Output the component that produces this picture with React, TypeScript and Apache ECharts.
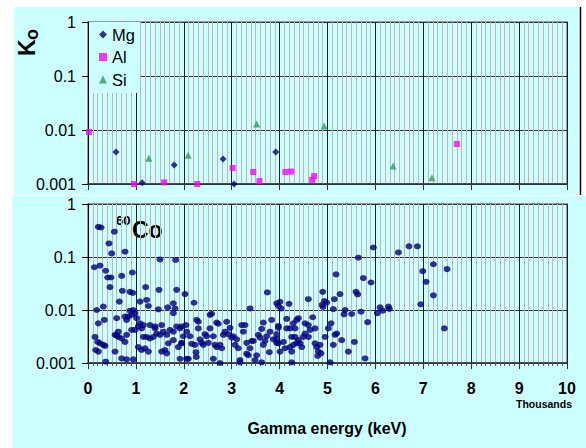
import React, { useEffect, useRef } from "react";
import * as echarts from "echarts";

// Top panel: K0 values for Mg, Al, Si (energy keV, K0)
const mgData: number[][] = [
  [585, 0.0039], [1130, 0.00105], [1800, 0.00225], [2820, 0.0029], [3050, 0.001], [3920, 0.0039],
];
const alData: number[][] = [
  [20, 0.0092], [960, 0.001], [1590, 0.00107], [2280, 0.001], [3020, 0.00198], [3450, 0.00167],
  [3580, 0.00113], [4120, 0.00167], [4240, 0.0017], [4680, 0.00119], [4720, 0.0014], [7700, 0.0055],
];
const siData: number[][] = [
  [1270, 0.003], [2090, 0.0034], [3520, 0.0129], [4930, 0.0118], [6370, 0.00215], [7180, 0.0013],
];

// Bottom panel: 60Co
const coData: number[][] = [
  [216, 0.37], [272, 0.36], [550, 0.30], [438, 0.18], [494, 0.117], [772, 0.126],
  [132, 0.064], [251, 0.069], [369, 0.055], [411, 0.041], [480, 0.041], [703, 0.044], [926, 0.051],
  [459, 0.027], [717, 0.023], [877, 0.022], [933, 0.021], [1204, 0.027], [1482, 0.024], [1851, 0.024],
  [1503, 0.09], [1830, 0.088],
  [654, 0.0144], [320, 0.0116], [181, 0.01], [1086, 0.0144], [1225, 0.0155], [1260, 0.0119],
  [877, 0.0097], [947, 0.01], [981, 0.0087], [912, 0.0081], [842, 0.0075], [1016, 0.007],
  [772, 0.0075], [807, 0.0065],
  [1468, 0.0103], [1664, 0.0112], [1782, 0.0134], [1817, 0.0107], [1782, 0.0087],
  [216, 0.0056], [341, 0.0065], [599, 0.007],
  [1086, 0.0056], [1051, 0.0049], [1120, 0.0045], [981, 0.0042], [912, 0.0042],
  [146, 0.0031], [202, 0.0025], [251, 0.00235], [320, 0.0022], [355, 0.0021],
  [564, 0.0034], [599, 0.0033], [633, 0.0031], [703, 0.0029], [772, 0.0025], [807, 0.0034], [633, 0.0039],
  [160, 0.00176], [216, 0.00164],
  [564, 0.00164], [703, 0.00122], [807, 0.00117], [947, 0.00117], [369, 0.00106],
  [1051, 0.002], [1120, 0.00176], [1190, 0.0019], [1260, 0.00164], [1155, 0.0031], [1225, 0.0031],
  [1294, 0.0029], [1364, 0.0031], [1399, 0.0045], [1434, 0.0036], [1503, 0.0034], [1573, 0.0039],
  [1643, 0.0034], [1712, 0.0042], [1782, 0.0039], [1851, 0.0049], [1921, 0.0045], [1608, 0.00176],
  [1538, 0.00164], [1643, 0.00152], [1677, 0.00235], [1782, 0.0027], [1886, 0.002], [1956, 0.00235],
  [1155, 0.0052], [1294, 0.0052], [1399, 0.0049], [1538, 0.0052],
  [1921, 0.0012],
  [2025, 0.02], [2213, 0.0137], [2547, 0.0081], [2581, 0.0085], [3744, 0.0215], [3383, 0.0107],
  [3940, 0.0134], [3973, 0.012],
  [1956, 0.0049], [2046, 0.0052], [2060, 0.0039], [1990, 0.0032], [1956, 0.0024], [2130, 0.0032],
  [2165, 0.0023], [2234, 0.0022], [2268, 0.0065], [2303, 0.006], [2303, 0.0045], [2255, 0.0016],
  [2260, 0.0013], [2338, 0.0028], [2373, 0.0024], [2408, 0.0022], [2442, 0.0035], [2477, 0.0032],
  [2512, 0.0024], [2547, 0.0045], [2617, 0.0032], [2651, 0.0022], [2686, 0.0058], [2721, 0.0055],
  [2686, 0.002], [2756, 0.0022], [2791, 0.0019], [2826, 0.0034], [2860, 0.0039], [2895, 0.006],
  [2930, 0.0035], [2965, 0.0046], [2999, 0.003], [3034, 0.0032], [3069, 0.0022], [3104, 0.0028],
  [3138, 0.0019], [3173, 0.00114], [3208, 0.0052], [3278, 0.0052], [3243, 0.0039], [3313, 0.0024],
  [3313, 0.0015], [3347, 0.0014], [3383, 0.0019], [3417, 0.0026], [3452, 0.0026], [3487, 0.00114],
  [3521, 0.0014], [3556, 0.0034], [3591, 0.003], [3626, 0.0044], [3660, 0.0058], [3660, 0.0022],
  [3695, 0.0026], [3730, 0.0032], [3786, 0.0016], [3800, 0.0039], [3835, 0.0065], [3870, 0.0028],
  [3939, 0.0035], [3939, 0.0024], [3974, 0.0046], [2060, 0.0012], [2095, 0.0012], [2756, 0.001],
  [3173, 0.00103], [3626, 0.00103], [2617, 0.0012],
  [5957, 0.151], [5644, 0.097], [5178, 0.047], [5749, 0.04], [5909, 0.033], [4900, 0.022],
  [5595, 0.022], [5630, 0.0197], [5261, 0.02], [4600, 0.016], [5143, 0.016], [4935, 0.0148],
  [4983, 0.0138], [4886, 0.0125], [4907, 0.0114], [4197, 0.0131], [4009, 0.0143], [4030, 0.0107],
  [5122, 0.0104], [5366, 0.01], [5345, 0.0083], [5505, 0.0084], [5700, 0.0093], [5839, 0.0059],
  [4148, 0.0068], [4287, 0.0056], [4357, 0.0065], [4392, 0.007], [4322, 0.0045], [4218, 0.0045],
  [4148, 0.0045], [4531, 0.0056], [4601, 0.0052], [4691, 0.0073], [4635, 0.0042], [4740, 0.0045],
  [4496, 0.0031], [4531, 0.0036], [4601, 0.0031], [4322, 0.0031], [4253, 0.0031], [4392, 0.0027],
  [4287, 0.0022], [4218, 0.002], [4079, 0.0025], [3974, 0.00235], [3974, 0.005], [3940, 0.0029],
  [4357, 0.00235], [4427, 0.00235], [4462, 0.002], [4253, 0.00164], [4009, 0.00164], [4114, 0.0019],
  [5018, 0.0045], [5074, 0.0056], [4949, 0.0031], [5192, 0.0036], [5157, 0.0034], [5122, 0.0022],
  [5296, 0.0027], [5561, 0.0025], [5435, 0.00164], [4740, 0.00235], [4775, 0.002], [4844, 0.0022],
  [4809, 0.00164], [4795, 0.00136], [4865, 0.00152], [5784, 0.00122], [5053, 0.00103], [4253, 0.00103],
  [6480, 0.122], [6702, 0.159], [6877, 0.159], [7211, 0.073], [6988, 0.054], [7496, 0.059],
  [7058, 0.034], [7211, 0.0189], [6946, 0.0128], [6097, 0.0112], [6153, 0.0097], [6041, 0.0087],
  [6271, 0.0116], [6291, 0.0105], [7440, 0.0045],
];

const yTickLabels = ["0.001", "0.01", "0.1", "1"];
const xTickLabels = ["0", "1", "2", "3", "4", "5", "6", "7", "8", "9", "10"];
const legendNames = ["Mg", "Al", "Si"];

const FONT = "'Liberation Sans', Arial, sans-serif";

export default function App() {
  const ref = useRef<HTMLDivElement>(null);
  useEffect(() => {
    if (!ref.current) return;
    const chart = echarts.init(ref.current, undefined, { renderer: "svg" });
    const yLabel = (v: number) => {
      const i = Math.round(Math.log10(v)) + 3;
      return yTickLabels[i] ?? "";
    };
    const xLabel = (v: number) => xTickLabels[Math.round(v / 1000)] ?? "";
    const yAxisBase = (gridIndex: number) => ({
      type: "log" as const,
      logBase: 10,
      gridIndex,
      min: 0.001,
      max: 1,
      splitNumber: 3,
      axisLine: { show: true, lineStyle: { color: "#000", width: 1 } },
      axisTick: { show: true, inside: false, length: 6, lineStyle: { color: "#000" } },
      axisLabel: { formatter: yLabel, fontSize: 16, color: "#000", fontFamily: FONT, margin: 12 },
      splitLine: { show: true, lineStyle: { color: "#333", width: 1.2 } },
      minorSplitLine: { show: false },
    });
    const xAxisBase = (gridIndex: number, showLabel: boolean) => ({
      type: "value" as const,
      gridIndex,
      min: 0,
      max: 10000,
      interval: 1000,
      axisLine: { show: true, onZero: false, lineStyle: { color: "#333", width: 1.5 } },
      axisTick: { show: true, inside: false, length: 6, lineStyle: { color: "#333" } },
      minorTick: { show: showLabel, splitNumber: 10, length: 3, lineStyle: { color: "#555" } },
      minorSplitLine: { show: true, lineStyle: { color: "#c6b3b3", width: 1 } },
      splitLine: { show: true, lineStyle: { color: "#222", width: 1 } },
      axisLabel: {
        show: showLabel,
        formatter: xLabel,
        fontSize: 16,
        fontWeight: "bold",
        color: "#000",
        fontFamily: FONT,
        margin: 17,
      },
    });
    chart.setOption({
      animation: false,
      backgroundColor: "transparent",
      graphic: [
        { type: "rect", z: -10, shape: { x: 14, y: 7, width: 565.5, height: 188 }, style: { fill: "#ccffff" } },
        { type: "rect", z: -10, shape: { x: 12, y: 196, width: 574, height: 252 }, style: { fill: "#ccffff" } },
        { type: "line", z: -9, shape: { x1: 580.5, y1: 7, x2: 580.5, y2: 195 }, style: { stroke: "#000", lineWidth: 1.5 } },
        {
          type: "group",
          x: 38,
          y: 56,
          rotation: Math.PI / 2,
          children: [
            { type: "text", x: 0, y: 0, style: { text: "K", fontSize: 23, fontWeight: "bold", fontFamily: FONT, fill: "#000", verticalAlign: "bottom" } },
            { type: "text", x: 16, y: 3, style: { text: "o", fontSize: 18, fontWeight: "bold", fontFamily: FONT, fill: "#000", verticalAlign: "bottom" } },
          ],
        },
        { type: "text", x: 116, y: 214, style: { text: "60", fontSize: 13, fontWeight: "bold", fontFamily: FONT, fill: "#000" } },
        { type: "text", x: 132, y: 218, style: { text: "Co", fontSize: 23, fontWeight: "bold", fontFamily: FONT, fill: "#000" } },
        { type: "text", x: 572, y: 404, style: { text: "Thousands", fontSize: 10.5, fontWeight: "bold", fontFamily: FONT, fill: "#000", align: "right", verticalAlign: "middle" } },
        { type: "text", x: 327, y: 428, style: { text: "Gamma energy (keV)", fontSize: 16, fontWeight: "bold", fontFamily: FONT, fill: "#000", align: "center", verticalAlign: "middle" } },
      ],
      grid: [
        { left: 88, top: 22, width: 479, height: 162, show: true, borderColor: "#808080", borderWidth: 1.5, backgroundColor: "transparent" },
        { left: 88, top: 204, width: 479, height: 159, show: true, borderColor: "#808080", borderWidth: 1.5, backgroundColor: "transparent" },
      ],
      xAxis: [xAxisBase(0, false), xAxisBase(1, true)],
      yAxis: [yAxisBase(0), yAxisBase(1)],
      legend: {
        data: legendNames,
        orient: "vertical",
        left: 89,
        top: 22,
        itemWidth: 8,
        itemHeight: 8,
        itemGap: 5.5,
        padding: [4, 5, 5, 10],
        backgroundColor: "#ccffff",
        textStyle: { fontSize: 16.5, color: "#000", fontFamily: FONT, lineHeight: 16 },
      },
      series: [
        { name: "Mg", type: "scatter", xAxisIndex: 0, yAxisIndex: 0, data: mgData, symbol: "diamond", symbolSize: 7, itemStyle: { color: "#000080" }, clip: false },
        { name: "Al", type: "scatter", xAxisIndex: 0, yAxisIndex: 0, data: alData, symbol: "rect", symbolSize: 6, itemStyle: { color: "#ff00ff" }, clip: false },
        { name: "Si", type: "scatter", xAxisIndex: 0, yAxisIndex: 0, data: siData, symbol: "triangle", symbolSize: 7, itemStyle: { color: "#339966" }, clip: false },
        { name: "60Co", type: "scatter", xAxisIndex: 1, yAxisIndex: 1, data: coData, symbol: "circle", symbolSize: [7, 6], itemStyle: { color: "#000080" }, clip: false },
      ],
    });
    return () => chart.dispose();
  }, []);
  return (
    <div
      ref={ref}
      style={{ position: "absolute", left: 0, top: 0, width: 586, height: 448 }}
    />
  );
}
